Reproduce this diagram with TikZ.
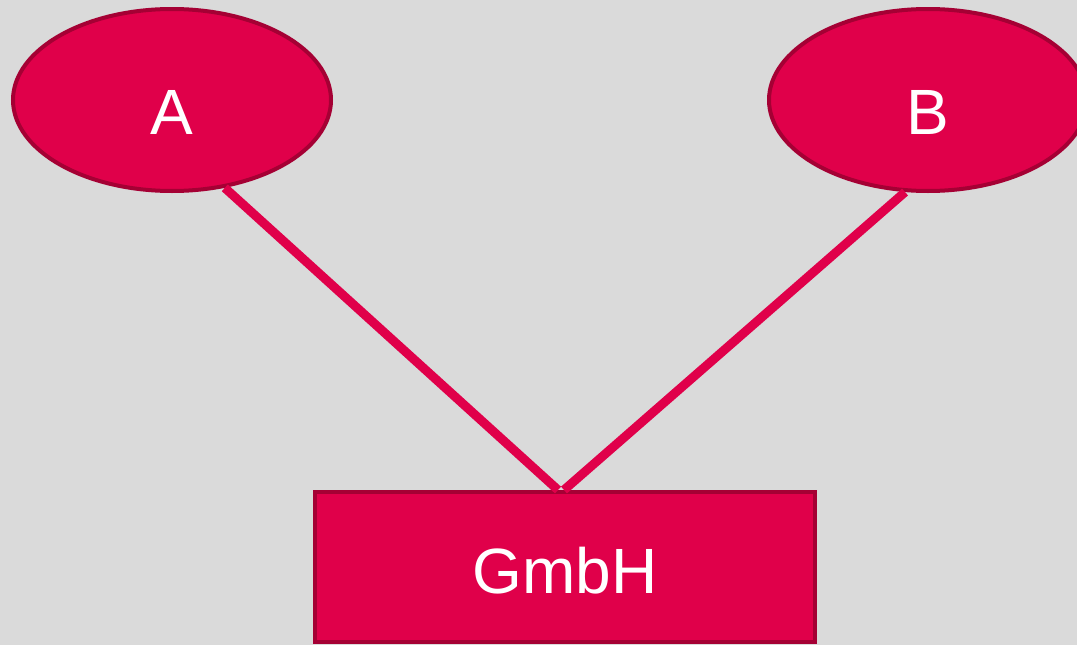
\documentclass[tikz,border=0pt]{standalone}
\usepackage{fontspec}
\setmainfont{Liberation Sans}
\usetikzlibrary{shapes.geometric}
\definecolor{bg}{HTML}{DADADA}
\definecolor{redfill}{HTML}{E0004A}
\definecolor{redline}{HTML}{A50034}
\tikzset{
  ent/.style={ellipse, draw=redline, fill=redfill, line width=4pt, inner sep=0pt,
    minimum width=318pt, minimum height=182pt, text=white, font=\fontsize{64}{64}\selectfont,
    text height=68pt, text depth=0pt},
  box/.style={rectangle, draw=redline, fill=redfill, line width=4pt, inner sep=0pt,
    minimum width=500pt, minimum height=150pt, text=white, font=\fontsize{64}{64}\selectfont,
    text height=52pt, text depth=0pt},
  conn/.style={draw=redfill, line width=9pt}
}
\begin{document}
\begin{tikzpicture}[x=1pt,y=-1pt]
\useasboundingbox (0,0) rectangle (1077,645);
\clip (0,0) rectangle (1077,645);
\fill[bg] (0,0) rectangle (1077,645);
\node[ent] (A) at (172,100) {A};
\node[ent] (B) at (928,100) {B};
\node[box] (G) at (565,567) {GmbH};
\draw[conn] (A.-59.5) -- ([xshift=-7pt]G.north);
\draw[conn] (B.-104.3) -- ([xshift=-1pt]G.north);
\end{tikzpicture}
\end{document}
